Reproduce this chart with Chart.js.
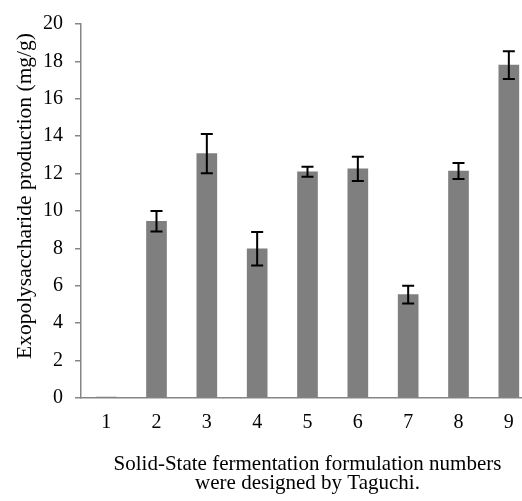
<!DOCTYPE html>
<html>
<head>
<meta charset="utf-8">
<script src="https://cdn.jsdelivr.net/npm/chart.js@4.4.0/dist/chart.umd.min.js"></script>
<style>
  body { margin: 0; background: #fff; }
  #wrap { width: 522px; height: 501px; overflow: hidden; position: relative; }
  canvas { display: block; }
</style>
</head>
<body>
<div id="wrap"><canvas id="epsChart" width="540" height="501"></canvas></div>
<script>
const formulations = ['1', '2', '3', '4', '5', '6', '7', '8', '9'];
const epsMeans = [0.05, 9.45, 13.07, 7.98, 12.1, 12.25, 5.53, 12.14, 17.8];
const epsErrors = [0, 0.55, 1.05, 0.9, 0.27, 0.65, 0.47, 0.43, 0.74];
const yTicks = [0, 2, 4, 6, 8, 10, 12, 14, 16, 18, 20];
const yTitle = 'Exopolysaccharide production (mg/g)';
const xTitle = ['Solid-State fermentation formulation numbers', 'were designed by Taguchi.'];

const serif = "'Liberation Serif', 'Times New Roman', serif";
const axisGray = '#868686';

// error bars drawn through the y scale
const errorBars = {
    id: 'errorBars',
    afterDatasetsDraw(chart) {
        const ctx = chart.ctx;
        const y = chart.scales.y;
        const meta = chart.getDatasetMeta(0);
        ctx.save();
        ctx.strokeStyle = '#000';
        ctx.lineWidth = 2;
        meta.data.forEach((bar, i) => {
            const e = epsErrors[i];
            if (!e) return;
            const top = y.getPixelForValue(epsMeans[i] + e);
            const bot = y.getPixelForValue(epsMeans[i] - e);
            const x = bar.x;
            ctx.beginPath();
            ctx.moveTo(x, top); ctx.lineTo(x, bot);
            ctx.moveTo(x - 6, top); ctx.lineTo(x + 6, top);
            ctx.moveTo(x - 6, bot); ctx.lineTo(x + 6, bot);
            ctx.stroke();
        });
        ctx.restore();
    }
};

// y axis title sits a bit above the plot centre in the original
const yAxisTitle = {
    id: 'yAxisTitle',
    afterDraw(chart) {
        const ctx = chart.ctx;
        ctx.save();
        ctx.translate(25, 196);
        ctx.rotate(-Math.PI / 2);
        ctx.font = '21.5px ' + serif;
        ctx.fillStyle = '#000';
        ctx.textAlign = 'center';
        ctx.textBaseline = 'middle';
        ctx.fillText(yTitle, 0, 0);
        ctx.restore();
    }
};

new Chart(document.getElementById('epsChart'), {
    type: 'bar',
    data: {
        labels: formulations,
        datasets: [{
            data: epsMeans,
            backgroundColor: '#7f7f7f',
            borderWidth: 0,
            barThickness: 20
        }]
    },
    options: {
        responsive: false,
        animation: false,
        layout: { padding: { top: 10, right: 6, left: 0, bottom: 0 } },
        plugins: { legend: { display: false }, tooltip: { enabled: false } },
        scales: {
            x: {
                grid: { display: false, drawTicks: false },
                border: { display: true, color: axisGray, width: 1.5 },
                ticks: { color: '#000', font: { family: serif, size: 20 }, padding: 13 },
                title: {
                    display: true, text: xTitle, color: '#000',
                    font: { family: serif, size: 21, lineHeight: 0.9 },
                    padding: { top: 0, bottom: 8 }
                },
                afterFit: s => { s.height = 103; }
            },
            y: {
                min: 0, max: 20,
                afterBuildTicks: s => { s.ticks = yTicks.map(v => ({ value: v })); },
                grid: { drawOnChartArea: false, drawTicks: true, tickLength: 6, color: axisGray, lineWidth: 1.5 },
                border: { display: true, color: axisGray, width: 1.5 },
                ticks: { color: '#000', font: { family: serif, size: 20 }, padding: 12 },
                afterFit: s => { s.width = 81; }
            }
        }
    },
    plugins: [errorBars, yAxisTitle]
});
</script>
</body>
</html>
